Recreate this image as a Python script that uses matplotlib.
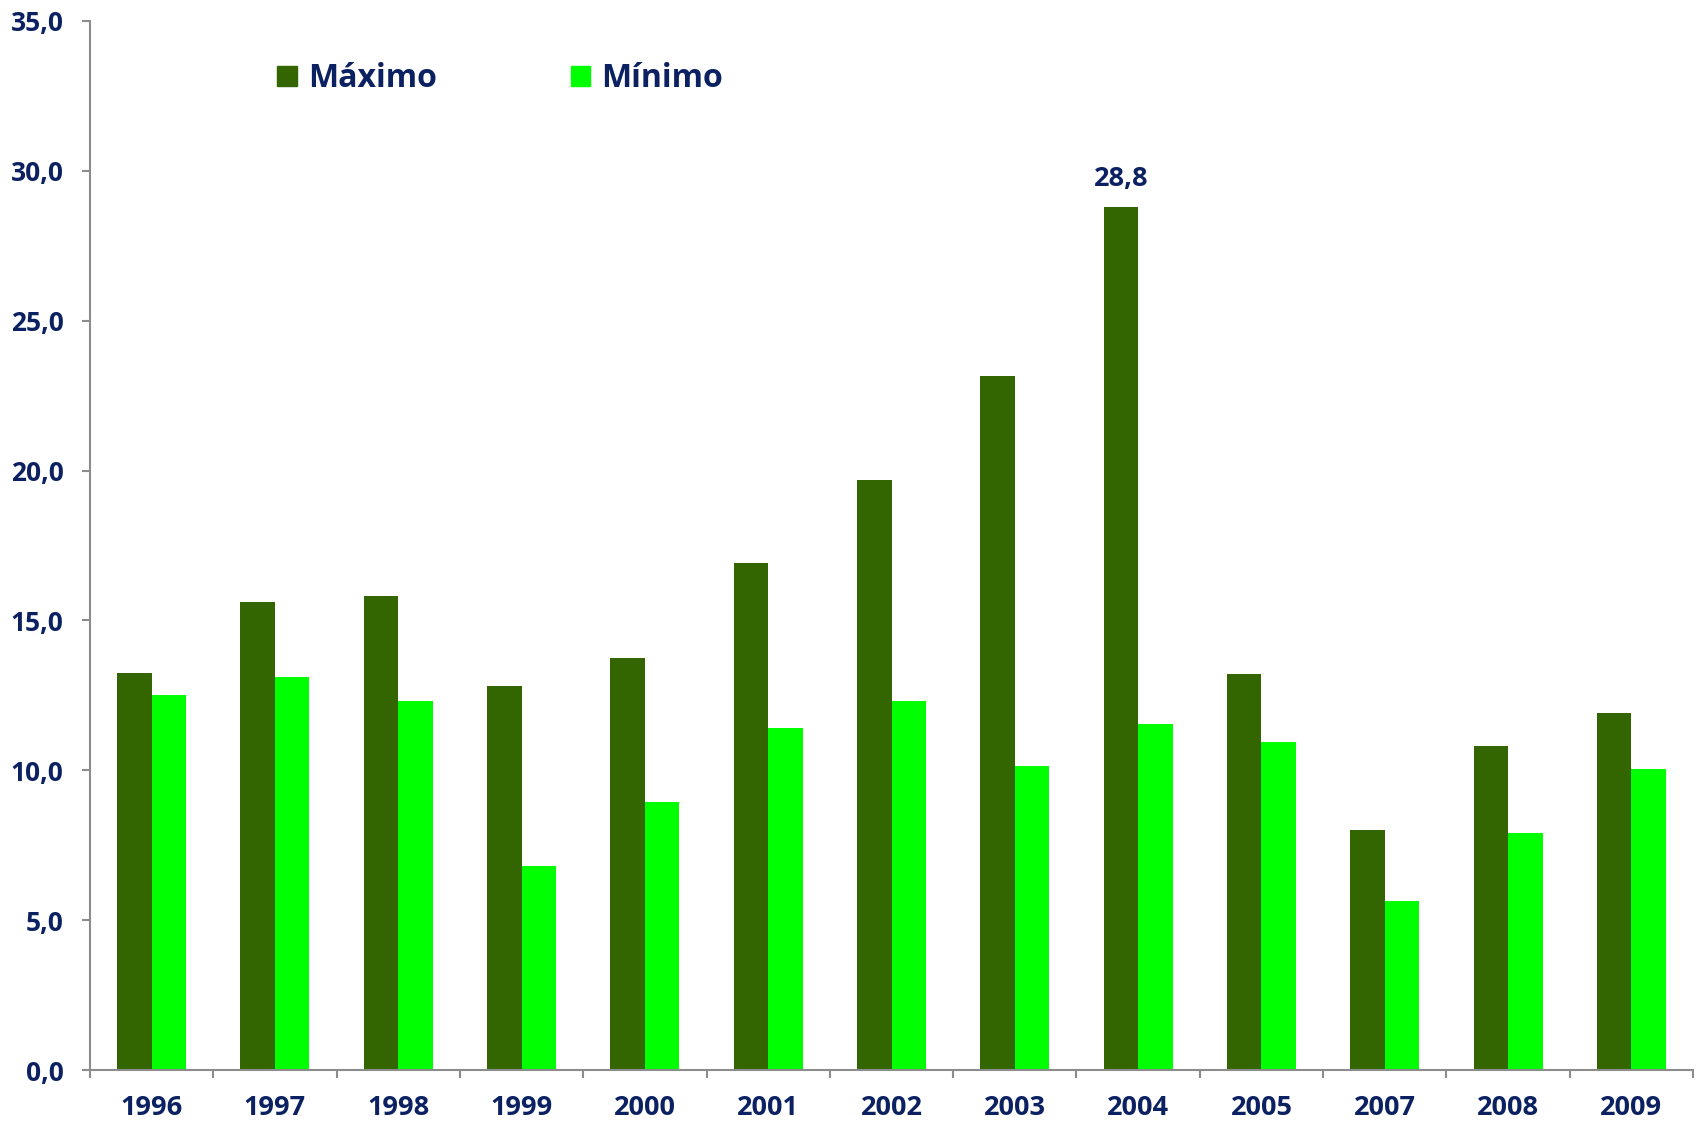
import numpy as np
import matplotlib.pyplot as plt
from matplotlib.patches import Patch
from matplotlib.ticker import FixedLocator, FuncFormatter

# data
years = ['1996', '1997', '1998', '1999', '2000', '2001', '2002',
         '2003', '2004', '2005', '2007', '2008', '2009']
maximo = [13.25, 15.6, 15.8, 12.8, 13.75, 16.9, 19.7,
          23.15, 28.8, 13.2, 8.0, 10.8, 11.9]
minimo = [12.5, 13.1, 12.3, 6.8, 8.95, 11.4, 12.3,
          10.15, 11.55, 10.95, 5.65, 7.9, 10.05]

dark_green = '#336600'
light_green = '#00ff00'
navy = '#0b2161'
gray = '#8c8c8c'

plt.rcParams['font.family'] = ['Open Sans', 'DejaVu Sans']
plt.rcParams['font.weight'] = 'bold'

fig = plt.figure(figsize=(17.02, 11.22), dpi=100)
ax = fig.add_axes([90 / 1702, 1 - 1070 / 1122, (1693 - 90) / 1702, (1070 - 21) / 1122])

x = np.arange(len(years))
w = 0.28
ax.bar(x - w / 2, maximo, width=w, color=dark_green, label='Máximo')
ax.bar(x + w / 2, minimo, width=w, color=light_green, label='Mínimo')

# label on the highest bar only
i_top = int(np.argmax(maximo))
ax.annotate(f'{maximo[i_top]:.1f}'.replace('.', ','), (x[i_top] - w / 2, maximo[i_top]),
            xytext=(0, 11), textcoords='offset points', ha='center', va='bottom',
            fontsize=19.5, fontweight='bold', color=navy)

ax.set_xlim(-0.5, len(years) - 0.5)
ax.set_ylim(0, 35)
ax.set_yticks(np.arange(0, 35.1, 5))
ax.yaxis.set_major_formatter(FuncFormatter(lambda v, p: f'{v:.1f}'.replace('.', ',')))

ax.set_xticks(x)
ax.set_xticklabels(years)
ax.xaxis.set_minor_locator(FixedLocator(np.arange(-0.5, len(years), 1.0)))
ax.tick_params(axis='x', which='major', length=0, pad=18, labelsize=19.5, labelcolor=navy)
ax.tick_params(axis='x', which='minor', length=6, width=1.5, color=gray, direction='out')
ax.tick_params(axis='y', length=6, width=1.5, color=gray, pad=13, labelsize=19, labelcolor=navy)
for lab in ax.get_xticklabels() + ax.get_yticklabels():
    lab.set_fontweight('bold')

for s in ['top', 'right']:
    ax.spines[s].set_visible(False)
for s in ['left', 'bottom']:
    ax.spines[s].set_color(gray)
    ax.spines[s].set_linewidth(1.5)

handles = [Patch(color=dark_green), Patch(color=light_green)]
leg = ax.legend(handles, ['Máximo', 'Mínimo'], loc='upper left', bbox_to_anchor=(0.099, 0.988),
                ncol=2, frameon=False, handlelength=0.6, handleheight=0.6,
                handletextpad=0.35, columnspacing=4.2, prop={'size': 23, 'weight': 'bold'})
for t in leg.get_texts():
    t.set_color(navy)

fig.savefig('out.png', dpi=100)
